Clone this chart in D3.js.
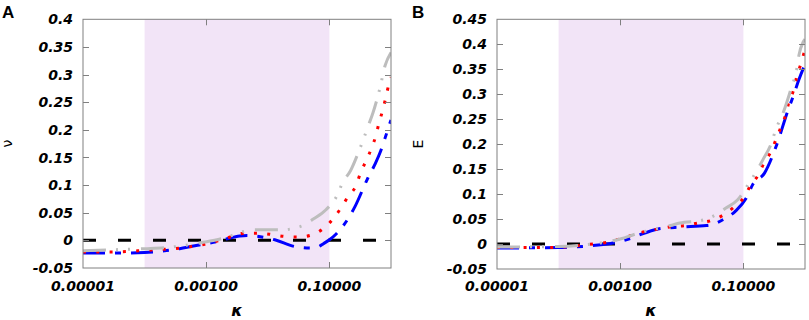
<!DOCTYPE html>
<html><head><meta charset="utf-8">
<script src="https://cdn.jsdelivr.net/npm/d3@7"></script>
<style>body{margin:0;background:#fff}svg{display:block}</style>
</head><body>
<svg id="c" width="809" height="320"></svg>
<script>
// ---- data ----
const xDomain = [1e-5, 1];
const xTicks = [1e-5, 1e-3, 1e-1];
const xTickLabels = ["0.00001", "0.00100", "0.10000"];
const shadedRange = [1e-4, 1e-1];

const yTicksA = [-0.05, 0, 0.05, 0.1, 0.15, 0.2, 0.25, 0.3, 0.35, 0.4];
const yTickLabelsA = ["-0.05", "0", "0.05", "0.1", "0.15", "0.2", "0.25", "0.3", "0.35", "0.4"];
const yTicksB = [-0.05, 0, 0.05, 0.1, 0.15, 0.2, 0.25, 0.3, 0.35, 0.4, 0.45];
const yTickLabelsB = ["-0.05", "0", "0.05", "0.1", "0.15", "0.2", "0.25", "0.3", "0.35", "0.4", "0.45"];

const zeroLine = [[1e-5, 0], [1, 0]];

// Panel A: nu vs kappa
const blueA = [[1e-5,-0.023],[3e-5,-0.023],[1e-4,-0.022],[2.1e-4,-0.019],[3.7e-4,-0.015],[8.9e-4,-0.007],[1.5e-3,-0.002],[2.2e-3,0.003],[3.5e-3,0.008],[4.6e-3,0.009],[6e-3,0.008],[0.013,0.001],[0.027,-0.011],[0.049,-0.014],[0.065,-0.012],[0.08,-0.006],[0.1,0.001],[0.13,0.012],[0.19,0.035],[0.26,0.061],[0.41,0.11],[0.55,0.138],[0.67,0.16],[0.8,0.185],[1,0.218]];
const redA = [[1e-5,-0.021],[3e-5,-0.021],[7.8e-5,-0.019],[1.5e-4,-0.017],[3.7e-4,-0.014],[5.9e-4,-0.011],[9.5e-4,-0.007],[1.55e-3,-0.001],[2.6e-3,0.007],[4.3e-3,0.013],[6.7e-3,0.013],[0.0117,0.0105],[0.019,0.007],[0.031,0.006],[0.052,0.010],[0.079,0.021],[0.115,0.039],[0.155,0.059],[0.2,0.079],[0.27,0.099],[0.32,0.122],[0.39,0.143],[0.48,0.166],[0.57,0.19],[0.64,0.213],[0.74,0.237],[0.83,0.26],[0.93,0.284],[1,0.295]];
const grayA = [[1e-5,-0.019],[3e-5,-0.017],[1e-4,-0.015],[2.3e-4,-0.013],[4e-4,-0.01],[8.5e-4,-0.004],[2.2e-3,0.006],[4e-3,0.016],[6e-3,0.019],[0.016,0.019],[0.036,0.026],[0.054,0.038],[0.087,0.055],[0.13,0.079],[0.165,0.105],[0.22,0.126],[0.31,0.165],[0.43,0.208],[0.51,0.231],[0.66,0.275],[0.8,0.316],[1,0.34]];

// Panel B: E vs kappa
const blueB = [[1e-5,-0.008],[1e-4,-0.007],[3e-4,-0.004],[7e-4,0.001],[1e-3,0.005],[1.6e-3,0.013],[2.5e-3,0.022],[4.5e-3,0.031],[1e-2,0.034],[2.5e-2,0.037],[3.5e-2,0.041],[4.7e-2,0.049],[7.3e-2,0.065],[0.115,0.095],[0.14,0.118],[0.22,0.142],[0.35,0.2],[0.52,0.265],[0.64,0.295],[0.8,0.33],[1,0.36]];
const redB = [[1e-5,-0.007],[2.8e-5,-0.007],[7.8e-5,-0.007],[1.5e-4,-0.005],[3.6e-4,0],[5.9e-4,0.003],[9.6e-4,0.01],[1.5e-3,0.017],[2.5e-3,0.025],[4.1e-3,0.03],[6.9e-3,0.035],[0.0112,0.037],[0.018,0.042],[0.030,0.047],[0.047,0.058],[0.070,0.074],[0.103,0.094],[0.13,0.117],[0.174,0.138],[0.215,0.162],[0.28,0.185],[0.34,0.21],[0.41,0.235],[0.49,0.26],[0.55,0.285],[0.66,0.31],[0.74,0.337],[0.87,0.363],[1,0.39]];
const grayB = [[1e-5,-0.006],[1e-4,-0.005],[3e-4,-0.001],[6e-4,0.004],[1e-3,0.01],[2e-3,0.022],[4e-3,0.031],[6.5e-3,0.037],[9.3e-3,0.042],[0.022,0.048],[0.035,0.058],[0.052,0.072],[0.08,0.088],[0.128,0.125],[0.166,0.147],[0.21,0.17],[0.27,0.195],[0.35,0.235],[0.43,0.259],[0.51,0.285],[0.59,0.31],[0.74,0.353],[0.8,0.379],[0.93,0.404],[1,0.41]];

// ---- drawing ----
const svg = d3.select("#c");
const tickFont = "'DejaVu Sans', sans-serif";

function panel(id, box, yDomain, yTicks, yTickLabels, yLabel, letter, letterX, series) {
  const g = svg.append("g");
  const x = d3.scaleLog().domain(xDomain).range([box.l, box.r]);
  const y = d3.scaleLinear().domain(yDomain).range([box.b, box.t]);

  g.append("clipPath").attr("id", "clip" + id)
    .append("rect").attr("x", box.l).attr("y", box.t)
    .attr("width", box.r - box.l).attr("height", box.b - box.t);

  // shaded region
  g.append("rect")
    .attr("x", x(shadedRange[0])).attr("y", box.t)
    .attr("width", x(shadedRange[1]) - x(shadedRange[0]))
    .attr("height", box.b - box.t)
    .attr("fill", "#f2e4f7");

  const line = d3.line().x(d => x(d[0])).y(d => y(d[1])).curve(d3.curveMonotoneX);
  const lg = g.append("g").attr("clip-path", `url(#clip${id})`);
  series.forEach(s => {
    lg.append("path").attr("d", line(s.data)).attr("fill", "none")
      .attr("stroke", s.color).attr("stroke-width", s.w)
      .attr("stroke-dasharray", s.dash).attr("stroke-dashoffset", s.off || 0);
  });

  // frame
  g.append("rect").attr("x", box.l).attr("y", box.t)
    .attr("width", box.r - box.l).attr("height", box.b - box.t)
    .attr("fill", "none").attr("stroke", "#808080").attr("stroke-width", 1);

  // y ticks inward on both sides
  const tl = 6;
  yTicks.forEach((v, i) => {
    const yy = Math.round(y(v)) + 0.5;
    if (i > 0 && i < yTicks.length - 1) {
      g.append("line").attr("x1", box.l).attr("x2", box.l + tl).attr("y1", yy).attr("y2", yy).attr("stroke", "#808080");
      g.append("line").attr("x1", box.r - tl).attr("x2", box.r).attr("y1", yy).attr("y2", yy).attr("stroke", "#808080");
    }
    g.append("text").attr("x", box.l - 10).attr("y", y(v)).attr("dy", "0.36em")
      .attr("text-anchor", "end").attr("font-family", tickFont)
      .attr("font-weight", "bold").attr("font-style", "italic").attr("font-size", 14)
      .text(yTickLabels[i]);
  });
  // x ticks inward top & bottom
  xTicks.forEach((v, i) => {
    const xx = Math.round(x(v)) + 0.5;
    if (i > 0) {
      g.append("line").attr("x1", xx).attr("x2", xx).attr("y1", box.b).attr("y2", box.b - tl).attr("stroke", "#808080");
      g.append("line").attr("x1", xx).attr("x2", xx).attr("y1", box.t).attr("y2", box.t + tl).attr("stroke", "#808080");
    }
    g.append("text").attr("x", x(v)).attr("y", 291)
      .attr("text-anchor", "middle").attr("font-family", tickFont)
      .attr("font-weight", "bold").attr("font-style", "italic").attr("font-size", 14)
      .text(xTickLabels[i]);
  });

  // axis labels
  g.append("text").attr("x", (box.l + box.r) / 2).attr("y", 316)
    .attr("text-anchor", "middle").attr("font-family", tickFont)
    .attr("font-weight", "bold").attr("font-style", "italic").attr("font-size", 16)
    .text("κ");
  g.append("text").attr("transform", `translate(${box.yl},${(box.t + box.b) / 2}) rotate(-90)`)
    .attr("text-anchor", "middle").attr("font-family", tickFont)
    .attr("font-size", 14).text(yLabel);
  // panel letter
  g.append("text").attr("x", letterX).attr("y", 18)
    .attr("font-family", "'Liberation Sans', Arial, sans-serif")
    .attr("font-weight", "bold").attr("font-size", 17).text(letter);
}

const styles = (b, r, gr) => [
  {data: zeroLine, color: "#000", w: 3, dash: "13 22", off: 0},
  {data: b, color: "#0000ff", w: 3, dash: "22 10 6 10", off: 0},
  {data: r, color: "#ff0000", w: 3, dash: "3 10.3", off: 0},
  {data: gr, color: "#bdbdbd", w: 3, dash: "23 10 2 10 2 11", off: 0}
];

panel("A", {l: 83, r: 391, t: 19.3, b: 268, yl: 12}, [-0.05, 0.4], yTicksA, yTickLabelsA, "ν", "A", 2,
  styles(blueA, redA, grayA));
panel("B", {l: 497, r: 805, t: 19.3, b: 269, yl: 423}, [-0.05, 0.45], yTicksB, yTickLabelsB, "E", "B", 412,
  styles(blueB, redB, grayB));
</script>
</body></html>
